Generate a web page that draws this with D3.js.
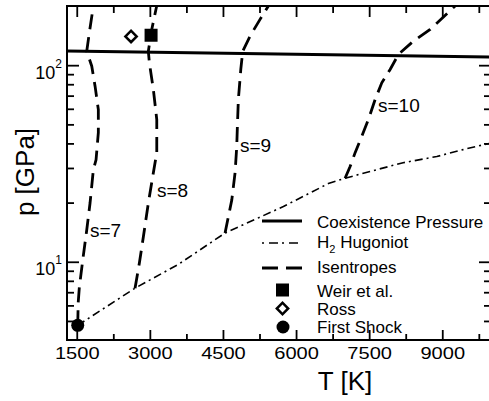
<!DOCTYPE html>
<html>
<head>
<meta charset="utf-8">
<script src="https://cdn.jsdelivr.net/npm/d3@7"></script>
<style>
  body { margin: 0; background: #fff; }
  text { font-family: "Liberation Sans", Arial, Helvetica, sans-serif; fill: #000; }
</style>
</head>
<body>
<svg id="chart" width="489" height="401"></svg>
<script>
// tick values
const tempTicks = [1500, 3000, 4500, 6000, 7500, 9000];
const tempMinor = [2250, 3750, 5250, 6750, 8250, 9750];
const pressMajor = [10, 100];
const pressMinor = [5, 6, 7, 8, 9, 20, 30, 40, 50, 60, 70, 80, 90];

// curves, [T (K), p (GPa)]
const coexistence = [[1300, 118], [10000, 110]];
const hugoniot = [[1520, 4.75], [2696, 7.34], [3585, 9.7], [4543, 14.0], [5740, 19.1],
                  [6663, 25.0], [7006, 26.6], [7518, 28.8], [8197, 31.9], [8888, 34.3],
                  [9428, 37.2], [10000, 40.2]];
const s7 = [[1520, 4.75], [1530, 6.2], [1553, 7.4], [1623, 10.2], [1705, 14.5], [1773, 19.9],
            [1841, 29.4], [1896, 33.0], [1943, 45.4], [1943, 59.4], [1876, 78.2],
            [1808, 98.8], [1705, 117.8], [1759, 146.8], [1841, 200]];
const s8 = [[2696, 7.34], [2785, 9.85], [2867, 13.4], [2969, 19.9], [3072, 28.4],
            [3142, 35.9], [3142, 52.9], [3072, 75.2], [2990, 103], [2969, 117.8],
            [3039, 152], [3140, 200]];
const s9 = [[4543, 14.0], [4681, 20.6], [4749, 28.4], [4783, 38.6], [4796, 48.8],
            [4816, 66.8], [4866, 95.1], [4906, 117.8], [5056, 140.6], [5261, 171],
            [5432, 200]];
const s10 = [[7006, 26.6], [7109, 30.5], [7212, 35.9], [7349, 43.5], [7484, 52.9],
             [7622, 66.8], [7759, 81.3], [7930, 95.1], [8100, 113.4], [8408, 132.6],
             [8751, 152], [9263, 200]];
const isentropeLabels = ["s=7", "s=8", "s=9", "s=10"];
const isentropeLabelAt = [[1772, 13.4], [3147, 21.4], [4850, 36.2], [7681, 57.8]];

// measured points
const weir = [3025, 142];
const ross = [2614, 140];
const firstShock = [1520, 4.75];

const svg = d3.select("#chart");

const x = d3.scaleLinear().domain([1300, 10000]).range([67, 491]);
const y = d3.scaleLog().domain([4, 200]).range([340, 6]);

const line = d3.line().x(d => x(d[0])).y(d => y(d[1]));

svg.append("defs").append("clipPath").attr("id", "plot")
    .append("rect").attr("x", 67).attr("y", 6).attr("width", 424).attr("height", 334);

const plot = svg.append("g").attr("clip-path", "url(#plot)");

// coexistence pressure
plot.append("path")
    .datum(coexistence)
    .attr("fill", "none")
    .attr("stroke", "#000")
    .attr("stroke-width", 3)
    .attr("d", line);

// hugoniot
plot.append("path")
    .datum(hugoniot)
    .attr("fill", "none")
    .attr("stroke", "#000")
    .attr("stroke-width", 1.6)
    .attr("stroke-dasharray", "8,4,2,4")
    .attr("d", line);

// isentropes
[s7, s8, s9, s10].forEach(s => {
    plot.append("path")
        .datum(s)
        .attr("fill", "none")
        .attr("stroke", "#000")
        .attr("stroke-width", 2.8)
        .attr("stroke-dasharray", "15,8")
        .attr("d", line);
});

isentropeLabels.forEach((t, i) => {
    svg.append("text")
        .attr("x", x(isentropeLabelAt[i][0]))
        .attr("y", y(isentropeLabelAt[i][1]))
        .attr("font-size", 19)
        .text(t);
});

// markers
svg.append("rect")
    .attr("x", x(weir[0]) - 6.5).attr("y", y(weir[1]) - 6.5)
    .attr("width", 13).attr("height", 13)
    .attr("fill", "#000");
svg.append("path")
    .attr("transform", `translate(${x(ross[0])},${y(ross[1])}) rotate(45)`)
    .attr("d", "M-4,-4H4V4H-4Z")
    .attr("fill", "#fff").attr("stroke", "#000").attr("stroke-width", 2.5);
svg.append("circle")
    .attr("cx", x(firstShock[0])).attr("cy", y(firstShock[1])).attr("r", 6.5)
    .attr("fill", "#000");

// axes
function styleAxis(g) {
    g.select(".domain").remove();
    g.selectAll(".tick line").attr("stroke", "#000").attr("stroke-width", 1.8);
}

const xBottom = svg.append("g")
    .attr("transform", "translate(0,340)")
    .call(d3.axisBottom(x).tickValues(tempTicks).tickSize(-10).tickPadding(7).tickFormat(d3.format("d")))
    .call(styleAxis);
xBottom.selectAll(".tick text")
    .attr("font-size", 17)
    .attr("font-family", "'Liberation Sans', Arial, sans-serif")
    .attr("transform", "scale(1.18,1)");

svg.append("g").attr("transform", "translate(0,340)")
    .call(d3.axisBottom(x).tickValues(tempMinor).tickSize(-6).tickFormat(""))
    .call(styleAxis);
svg.append("g").attr("transform", "translate(0,6)")
    .call(d3.axisTop(x).tickValues(tempTicks).tickSize(-11).tickFormat(""))
    .call(styleAxis);
svg.append("g").attr("transform", "translate(0,6)")
    .call(d3.axisTop(x).tickValues(tempMinor).tickSize(-7).tickFormat(""))
    .call(styleAxis);

const yLeft = svg.append("g").attr("transform", "translate(67,0)")
    .call(d3.axisLeft(y).tickValues(pressMajor).tickSize(-12).tickFormat(""))
    .call(styleAxis);
svg.append("g").attr("transform", "translate(67,0)")
    .call(d3.axisLeft(y).tickValues(pressMinor).tickSize(-7).tickFormat(""))
    .call(styleAxis);
svg.append("g").attr("transform", "translate(491,0)")
    .call(d3.axisRight(y).tickValues(pressMajor).tickSize(-12).tickFormat(""))
    .call(styleAxis);
svg.append("g").attr("transform", "translate(491,0)")
    .call(d3.axisRight(y).tickValues(pressMinor).tickSize(-7).tickFormat(""))
    .call(styleAxis);

yLeft.selectAll(".tick").each(function(d) {
    const t = d3.select(this).append("text")
        .attr("x", -5).attr("y", 13)
        .attr("text-anchor", "end")
        .attr("font-size", 18);
    t.append("tspan").text("10");
    t.append("tspan").attr("font-size", 12).attr("dy", -11).text(Math.round(Math.log10(d)));
});

// frame
svg.append("rect")
    .attr("x", 67).attr("y", 6).attr("width", 424).attr("height", 334)
    .attr("fill", "none").attr("stroke", "#000").attr("stroke-width", 2);

// axis titles
svg.append("text")
    .attr("x", 345).attr("y", 390)
    .attr("text-anchor", "middle")
    .attr("font-size", 26)
    .text("T [K]");
svg.append("text")
    .attr("transform", "translate(34,172) rotate(-90)")
    .attr("text-anchor", "middle")
    .attr("font-size", 26)
    .text("p [GPa]");

// legend
const legend = svg.append("g");
const lx0 = 262, lx1 = 302, tx = 317;

legend.append("line").attr("x1", lx0).attr("x2", lx1).attr("y1", 221).attr("y2", 221)
    .attr("stroke", "#000").attr("stroke-width", 3);
legend.append("line").attr("x1", lx0).attr("x2", lx1).attr("y1", 243).attr("y2", 243)
    .attr("stroke", "#000").attr("stroke-width", 1.6).attr("stroke-dasharray", "2,5,9,4");
legend.append("line").attr("x1", lx0).attr("x2", lx1).attr("y1", 268).attr("y2", 268)
    .attr("stroke", "#000").attr("stroke-width", 2.8).attr("stroke-dasharray", "16,8");
legend.append("rect").attr("x", 276).attr("y", 283.5).attr("width", 13).attr("height", 13)
    .attr("fill", "#000");
legend.append("path").attr("transform", "translate(282.5,308.5) rotate(45)")
    .attr("d", "M-4,-4H4V4H-4Z")
    .attr("fill", "#fff").attr("stroke", "#000").attr("stroke-width", 2.5);
legend.append("circle").attr("cx", 283).attr("cy", 327).attr("r", 6.5).attr("fill", "#000");

const legendText = (yy, s) => legend.append("text").attr("x", tx).attr("y", yy)
    .attr("font-size", 17).text(s);
legendText(228, "Coexistence Pressure");
const h2 = legend.append("text").attr("x", tx).attr("y", 248).attr("font-size", 17);
h2.append("tspan").text("H");
h2.append("tspan").attr("font-size", 11).attr("dy", 5).text("2");
h2.append("tspan").attr("dy", -5).text(" Hugoniot");
legendText(273, "Isentropes");
legendText(297, "Weir et al.");
legendText(315, "Ross");
legendText(333, "First Shock");
</script>
</body>
</html>
